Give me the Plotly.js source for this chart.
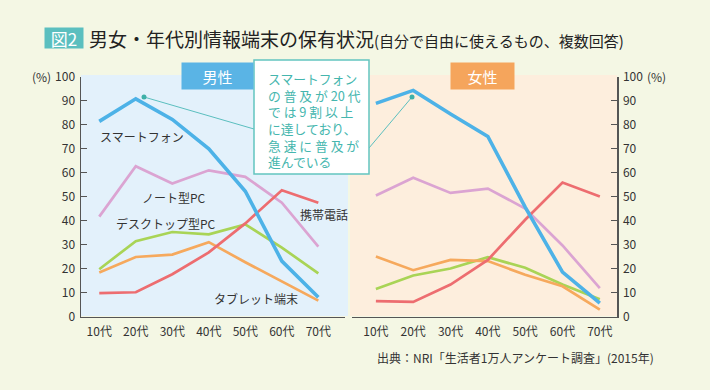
<!DOCTYPE html>
<html><head><meta charset="utf-8">
<script src="https://cdn.plot.ly/plotly-3.0.1.min.js"></script>
<style>html,body{margin:0;padding:0;background:#f4f7e4;}#chart{width:710px;height:390px;}</style>
</head><body><div id="chart"></div>
<script>
// ---- data ----
const ageGroups = ['10代','20代','30代','40代','50代','60代','70代'];
const seriesNames = ['スマートフォン','ノート型PC','デスクトップ型PC','タブレット端末','携帯電話'];
const maleSmartphone = [81.3, 90.7, 82.1, 69.9, 52.2, 23.1, 8.0];
const maleNotePC     = [41.6, 62.6, 55.4, 60.9, 58.2, 47.4, 29.1];
const maleDesktopPC  = [19.7, 31.4, 35.2, 34.2, 38.4, 28.7, 18.0];
const maleTablet     = [18.3, 24.8, 25.8, 31.0, 22.6, 14.6, 6.6];
const maleMobile     = [9.7, 10.1, 17.6, 26.7, 38.8, 52.6, 47.4];
const femaleSmartphone = [88.8, 94.2, 84.4, 75.0, 45.6, 18.5, 5.6];
const femaleNotePC     = [50.4, 57.8, 51.5, 53.3, 45.0, 29.6, 11.8];
const femaleDesktopPC  = [11.5, 17.1, 20.0, 24.7, 20.3, 13.3, 7.2];
const femaleTablet     = [25.0, 19.3, 23.6, 23.1, 17.4, 12.6, 2.9];
const femaleMobile     = [6.4, 6.1, 13.3, 23.6, 40.3, 55.8, 50.0];
const yTicks = [0,10,20,30,40,50,60,70,80,90,100];

const colors = ['#4db2e7','#dba4d2','#a9d456','#f6a95d','#ed6d70'];
const widths = [3.6, 2.7, 2.7, 2.7, 2.7];
const maleData = [maleSmartphone, maleNotePC, maleDesktopPC, maleTablet, maleMobile];
const femaleData = [femaleSmartphone, femaleNotePC, femaleDesktopPC, femaleTablet, femaleMobile];

const W = 710, H = 390;
const px = x => x / W, py = y => 1 - y / H;
const FONT = '"Noto Sans CJK JP", "Noto Sans", sans-serif';

const traces = [];
const order = [1,2,3,4,0];
order.forEach(i => {
  traces.push({x: ageGroups, y: maleData[i], name: seriesNames[i], type: 'scatter', mode: 'lines',
    xaxis: 'x', yaxis: 'y', line: {color: colors[i], width: widths[i]}, hoverinfo: 'skip'});
});
order.forEach(i => {
  traces.push({x: ageGroups, y: femaleData[i], name: seriesNames[i], type: 'scatter', mode: 'lines',
    xaxis: 'x2', yaxis: 'y2', line: {color: colors[i], width: widths[i]}, hoverinfo: 'skip'});
});

const yDomain = [py(316.5), py(76.5)];
const axisCommon = {showgrid: false, zeroline: false, showline: true, linecolor: '#555', linewidth: 1.5,
  tickfont: {family: FONT, size: 12, color: '#333'}, fixedrange: true};

const ann = [];
const txt = (text, x, y, size, color, xanchor, extra) => Object.assign({text, x: px(x), y: py(y), xref: 'paper', yref: 'paper',
  showarrow: false, xanchor: xanchor || 'left', yanchor: 'middle', font: {family: FONT, size, color}}, extra || {});

// title
ann.push(txt('図2', 64, 38, 17, '#ffffff', 'center', {bgcolor: '#5bbfbf', width: 38, height: 20, borderpad: 0}));
ann.push(txt('男女・年代別情報端末の保有状況<span style="font-size:15px">(自分で自由に使えるもの、複数回答)</span>', 87, 39, 19, '#222'));
// panel labels
ann.push(txt('男性', 217.5, 76, 15, '#ffffff', 'center', {bgcolor: '#5ab4e5', width: 69, height: 24}));
ann.push(txt('女性', 482.5, 76, 15, '#ffffff', 'center', {bgcolor: '#f5a55c', width: 61, height: 24}));
// % units
ann.push(txt('(%)', 30, 77, 12, '#333'));
ann.push(txt('(%)', 645, 77, 12, '#333'));
// series labels
ann.push(txt('スマートフォン', 98, 136, 12, '#333'));
ann.push(txt('ノート型PC', 140, 197, 12, '#333'));
ann.push(txt('デスクトップ型PC', 114, 223, 12, '#333'));
ann.push(txt('携帯電話', 298, 214, 12, '#333'));
ann.push(txt('タブレット端末', 212, 298, 12, '#333'));
// callout text (letter-spaced with no-break spaces)
const S = '\u00a0';
const callout = [
  'スマートフォン',
  ['の','普','及','が','20','代'].join(S),
  ['で','は','9','割','以','上'].join(S),
  'に達しており、',
  ['急','速','に','普','及','が'].join(S),
  '進んでいる'
];
ann.push(txt(callout.join('<br>'), 267, 119.6, 12.8, '#45b6ae', 'left', {borderpad: 0, align: 'left'}));
// source
ann.push(txt('出典：NRI「生活者1万人アンケート調査」(2015年)', 375, 357, 12, '#333'));

const shapes = [
  {type: 'rect', xref: 'paper', yref: 'paper', x0: px(81), x1: px(348), y0: py(316), y1: py(75), fillcolor: '#e3f1fb', line: {width: 0}, layer: 'below'},
  {type: 'rect', xref: 'paper', yref: 'paper', x0: px(350), x1: px(617), y0: py(316), y1: py(75), fillcolor: '#fdeedd', line: {width: 0}, layer: 'below'},
  {type: 'line', xref: 'paper', yref: 'paper', x0: px(144), y0: py(97), x1: px(254), y1: py(129), line: {color: '#5bbfbf', width: 1}, layer: 'above'},
  {type: 'line', xref: 'paper', yref: 'paper', x0: px(412), y0: py(97), x1: px(369), y1: py(148), line: {color: '#5bbfbf', width: 1}, layer: 'above'},
  {type: 'circle', xref: 'paper', yref: 'paper', x0: px(141.5), x1: px(146.5), y0: py(94.5), y1: py(99.5), fillcolor: '#3eb0a8', line: {width: 0}, layer: 'above'},
  {type: 'circle', xref: 'paper', yref: 'paper', x0: px(409.5), x1: px(414.5), y0: py(94.5), y1: py(99.5), fillcolor: '#3eb0a8', line: {width: 0}, layer: 'above'},
  {type: 'rect', xref: 'paper', yref: 'paper', x0: px(254), x1: px(369), y0: py(174), y1: py(60), fillcolor: '#ffffff', line: {color: '#63c5c0', width: 1.5}, layer: 'above'}
];

const layout = {
  width: W, height: H, margin: {l: 0, r: 0, t: 0, b: 0},
  paper_bgcolor: '#f4f7e4', plot_bgcolor: 'rgba(0,0,0,0)', showlegend: false,
  font: {family: FONT},
  xaxis: Object.assign({}, axisCommon, {domain: [px(81), px(345)], range: [-0.5, 6.73], type: 'category', anchor: 'y', ticks: '', ticklabelstandoff: 4}),
  yaxis: Object.assign({}, axisCommon, {domain: yDomain, range: [0, 100], tickvals: yTicks, ticks: 'inside', ticklen: 6, tickcolor: '#555', anchor: 'x', ticklabelstandoff: 2}),
  xaxis2: Object.assign({}, axisCommon, {domain: [px(352), px(617)], range: [-0.64, 6.46], type: 'category', anchor: 'y2', ticks: '', ticklabelstandoff: 4}),
  yaxis2: Object.assign({}, axisCommon, {domain: yDomain, range: [0, 100], tickvals: yTicks, ticks: 'inside', ticklen: 6, tickcolor: '#555', anchor: 'x2', side: 'right', ticklabelstandoff: 2}),
  shapes, annotations: ann
};

Plotly.newPlot('chart', traces, layout, {staticPlot: true, displayModeBar: false});
</script></body></html>
